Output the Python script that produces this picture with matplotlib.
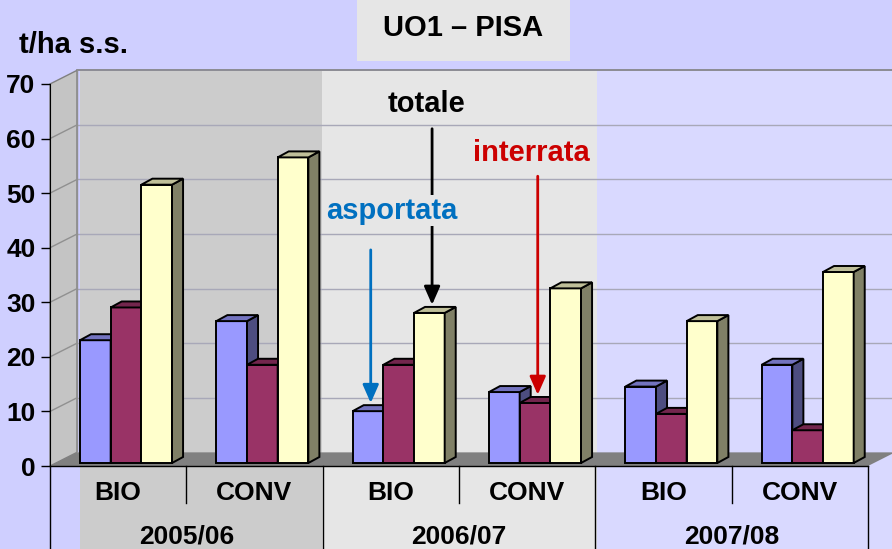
import numpy as np
import matplotlib
matplotlib.use('Agg')
from matplotlib import pyplot as plt
from matplotlib.patches import Rectangle, Polygon

plt.rcParams['font.family'] = ['Liberation Sans', 'DejaVu Sans']
plt.rcParams['font.weight'] = 'bold'

# data (t/ha s.s.)
seasons = ['2005/06', '2006/07', '2007/08']
systems = ['BIO', 'CONV']
series = ['asportata', 'interrata', 'totale']
asportata = [22.5, 26, 9.5, 13, 14, 18]
interrata = [28.5, 18, 18, 11, 9, 6]
totale = [51, 56, 27.5, 32, 26, 35]
yticks = [0, 10, 20, 30, 40, 50, 60, 70]

front_col = ['#9999FF', '#993366', '#FFFFCC']
side_col = ['#4D4D80', '#4D1A33', '#808066']
top_col = ['#7373BF', '#73264D', '#BFBF99']

fig = plt.figure(figsize=(8.92, 5.49), dpi=100)
fig.patch.set_facecolor('#CFCFFF')

# background panels (pixel coords)
bg = fig.add_axes([0, 0, 1, 1], zorder=0)
bg.set_xlim(0, 892)
bg.set_ylim(549, 0)
bg.axis('off')
bg.add_patch(Rectangle((80, 71), 242, 478, color='#CCCCCC', lw=0))
bg.add_patch(Rectangle((322, 71), 275, 478, color='#E6E6E6', lw=0))
bg.add_patch(Rectangle((597, 71), 295, 478, color='#D9D9FF', lw=0))
bg.add_patch(Rectangle((357, 0), 213, 61, color='#E6E6E6', lw=0))
bg.text(463, 28, 'UO1 – PISA', ha='center', va='center', fontsize=21)
bg.text(19, 53, 't/ha s.s.', ha='left', va='baseline', fontsize=21)

# main chart
ax = fig.add_axes([50 / 892, 83 / 549, 818 / 892, 382 / 549], zorder=1)
ax.patch.set_visible(False)
ax.set_xlim(0, 6)
ax.set_ylim(0, 70)

DX, DY = 0.198, 2.5  # wall depth
ymax = yticks[-1]

# side wall, floor
ax.add_patch(Polygon([(0, 0), (DX, DY), (DX, ymax + DY), (0, ymax)], closed=True,
                     fc='#C4C4C4', ec='#808080', lw=1, zorder=1, clip_on=False))
ax.add_patch(Polygon([(0, 0), (6, 0), (6 + DX, DY), (DX, DY)], closed=True,
                     fc='#808080', ec='none', zorder=1, clip_on=False))

# gridlines
for v in yticks[1:-1]:
    ax.plot([DX, 6 + DX], [v + DY, v + DY], color='#A8A8B8', lw=1, zorder=1.5, clip_on=False)
    ax.plot([0, DX], [v, v + DY], color='#909090', lw=1, zorder=1.5, clip_on=False)
ax.plot([DX, 6 + DX], [ymax + DY, ymax + DY], color='#808080', lw=1.2, zorder=1.5, clip_on=False)
ax.plot([DX, DX], [DY, ymax + DY], color='#909090', lw=1, zorder=1.5, clip_on=False)

# 3D bars
vals = [asportata, interrata, totale]
W, X0, Y0 = 0.225, 0.22, 0.55
BDX, BDY = 0.081, 1.1
for g in range(6):
    for j in range(3):
        x = g + X0 + j * W
        v = vals[j][g]
        z = 3 + g * 0.1 + j * 0.01
        ax.bar(x, v, width=W, bottom=Y0, align='edge', color=front_col[j],
               edgecolor='black', lw=1.4, zorder=z)
        ax.add_patch(Polygon([(x + W, Y0), (x + W + BDX, Y0 + BDY),
                              (x + W + BDX, Y0 + v + BDY), (x + W, Y0 + v)],
                             closed=True, fc=side_col[j], ec='black', lw=1.4, zorder=z))
        ax.add_patch(Polygon([(x, Y0 + v), (x + W, Y0 + v),
                              (x + W + BDX, Y0 + v + BDY), (x + BDX, Y0 + v + BDY)],
                             closed=True, fc=top_col[j], ec='black', lw=1.4, zorder=z))

# axes styling
for s in ['top', 'right', 'bottom']:
    ax.spines[s].set_visible(False)
ax.spines['left'].set_color('black')
ax.set_xticks([])
ax.set_yticks(yticks)
ax.tick_params(axis='y', direction='out', length=6.5, width=1, pad=4, labelsize=19)

# category table
ax.plot([0, 6], [0, 0], color='black', lw=1, zorder=2, clip_on=False)
for k in range(7):
    ybot = -16 if k % 2 == 0 else -6.8
    ax.plot([k, k], [0, ybot], color='black', lw=1, zorder=2, clip_on=False)
for g in range(6):
    ax.text(g + 0.5, -4.95, systems[g % 2], ha='center', va='center', fontsize=19)
for k in range(3):
    ax.text(2 * k + 1, -12.9, seasons[k], ha='center', va='center', fontsize=19)

# annotations
arrow_kw = dict(shrinkA=0, shrinkB=0, lw=2, mutation_scale=22)


def point_at(g, j, tail, color):
    x = g + X0 + j * W + W / 2 + 0.02
    tip = Y0 + vals[j][g] + BDY + 0.4
    ax.annotate('', xy=(x, tip), xytext=(x, tail), zorder=6,
                arrowprops=dict(arrowstyle='-|>,head_length=0.5,head_width=0.22',
                                color=color, **arrow_kw))


point_at(2, 2, 61.8, 'black')
point_at(2, 0, 39.6, '#0070C0')
point_at(3, 1, 53.1, '#CC0000')
ax.text(2.765, 64.9, 'totale', ha='center', va='baseline', fontsize=21, color='black', zorder=7)
ax.text(3.532, 55.9, 'interrata', ha='center', va='baseline', fontsize=21, color='#CC0000', zorder=7)
ax.text(2.509, 45.3, 'asportata', ha='center', va='baseline', fontsize=21, color='#0070C0', zorder=7,
        bbox=dict(fc='#E6E6E6', ec='none', pad=1))

fig.savefig('out.png', dpi=100, facecolor=fig.get_facecolor())
